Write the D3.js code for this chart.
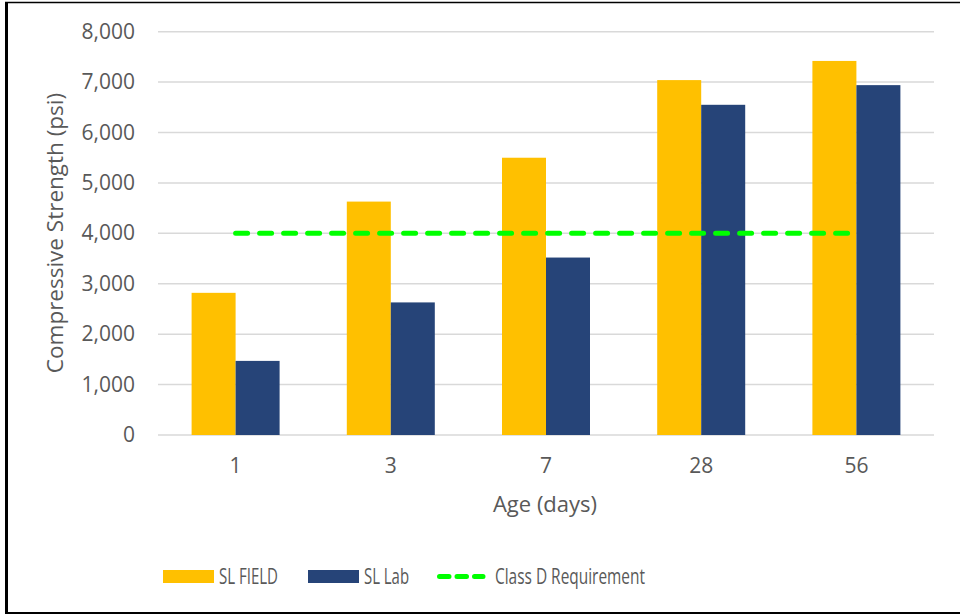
<!DOCTYPE html>
<html>
<head>
<meta charset="utf-8">
<script src="https://cdn.jsdelivr.net/npm/d3@7"></script>
<style>
  html, body { margin: 0; padding: 0; background: #fff; }
  svg { display: block; }
  text { font-family: 'Open Sans', sans-serif; fill: #595959; }
</style>
</head>
<body>
<svg id="chart" width="960" height="615"></svg>
<script>
const categories = ["1", "3", "7", "28", "56"];
const seriesNames = ["SL FIELD", "SL Lab"];
const fieldValues = [2820, 4630, 5500, 7040, 7420];
const labValues = [1470, 2630, 3520, 6550, 6940];
const requirementValue = 4000;
const requirementName = "Class D Requirement";
const yTicks = [0, 1000, 2000, 3000, 4000, 5000, 6000, 7000, 8000];
const xTitle = "Age (days)";
const yTitle = "Compressive Strength (psi)";

const colors = { "SL FIELD": "#FFC000", "SL Lab": "#264478" };
const green = "#00FF00";

const svg = d3.select("#chart");
const W = 960, H = 615;
svg.append("rect").attr("width", W).attr("height", H).attr("fill", "#fff");

const plot = { left: 158, right: 934, top: 31.7, bottom: 435 };

const x = d3.scaleBand().domain(categories).range([plot.left, plot.right])
  .paddingInner(1 - 88 / 155.2).paddingOuter((1 - 88 / 155.2) / 2);
const xs = d3.scaleBand().domain(seriesNames).range([0, x.bandwidth()]);
const y = d3.scaleLinear().domain([0, 8000]).range([plot.bottom, plot.top]);

// gridlines
svg.append("g").selectAll("line").data(yTicks).join("line")
  .attr("x1", plot.left).attr("x2", plot.right)
  .attr("y1", d => y(d)).attr("y2", d => y(d))
  .attr("stroke", "#d9d9d9").attr("stroke-width", 1.5);

// y tick labels
const fmt = d3.format(",");
svg.append("g").selectAll("text").data(yTicks).join("text")
  .attr("x", 135).attr("y", d => y(d) + 7)
  .attr("text-anchor", "end").attr("font-size", 21)
  .text(d => fmt(d));

// bars
const data = categories.map((c, i) => ({ cat: c, vals: [
  { s: "SL FIELD", v: fieldValues[i] }, { s: "SL Lab", v: labValues[i] }] }));
const groups = svg.append("g").selectAll("g").data(data).join("g")
  .attr("transform", d => `translate(${x(d.cat)},0)`);
groups.selectAll("rect").data(d => d.vals).join("rect")
  .attr("x", d => xs(d.s)).attr("width", xs.bandwidth())
  .attr("y", d => y(d.v)).attr("height", d => y(0) - y(d.v))
  .attr("fill", d => colors[d.s]);

// requirement line
const lineData = categories.map(c => ({ cat: c, v: requirementValue }));
const line = d3.line().x(d => x(d.cat) + x.bandwidth() / 2).y(d => y(d.v));
svg.append("path").datum(lineData).attr("d", line)
  .attr("fill", "none").attr("stroke", green).attr("stroke-width", 5)
  .attr("stroke-linecap", "round").attr("stroke-dasharray", "12 12");

// x tick labels
svg.append("g").selectAll("text").data(categories).join("text")
  .attr("x", d => x(d) + x.bandwidth() / 2).attr("y", 473)
  .attr("text-anchor", "middle").attr("font-size", 21)
  .text(d => d);

// axis titles
svg.append("text").attr("x", 545).attr("y", 512).attr("text-anchor", "middle")
  .attr("font-size", 22).text(xTitle);
svg.append("text").attr("transform", "translate(63,233) rotate(-90)")
  .attr("text-anchor", "middle").attr("font-size", 22.5).text(yTitle);

// legend
const leg = svg.append("g");
const legItems = [
  { name: "SL FIELD", type: "rect", color: colors["SL FIELD"], x: 163, tx: 219, tw: 59 },
  { name: "SL Lab", type: "rect", color: colors["SL Lab"], x: 308, tx: 364, tw: 45 },
  { name: requirementName, type: "line", color: green, x: 437, tx: 495, tw: 150 }
];
legItems.forEach(it => {
  if (it.type === "rect") {
    leg.append("rect").attr("x", it.x).attr("y", 570).attr("width", 51).attr("height", 13).attr("fill", it.color);
  } else {
    leg.append("line").attr("x1", it.x + 2.5).attr("x2", it.x + 46).attr("y1", 576.5).attr("y2", 576.5)
      .attr("stroke", it.color).attr("stroke-width", 5).attr("stroke-linecap", "round")
      .attr("stroke-dasharray", "9.5 8");
  }
  leg.append("text").attr("x", it.tx).attr("y", 584).attr("font-size", 22)
    .attr("textLength", it.tw).attr("lengthAdjust", "spacingAndGlyphs").text(it.name);
});

// outer border
svg.append("line").attr("x1", 6.5).attr("x2", 6.5).attr("y1", 2).attr("y2", 614).attr("stroke", "#000").attr("stroke-width", 3);
svg.append("line").attr("x1", 5).attr("x2", 960).attr("y1", 2.5).attr("y2", 2.5).attr("stroke", "#000").attr("stroke-width", 1.5);
svg.append("line").attr("x1", 5).attr("x2", 960).attr("y1", 613).attr("y2", 613).attr("stroke", "#000").attr("stroke-width", 2);
</script>
</body>
</html>
